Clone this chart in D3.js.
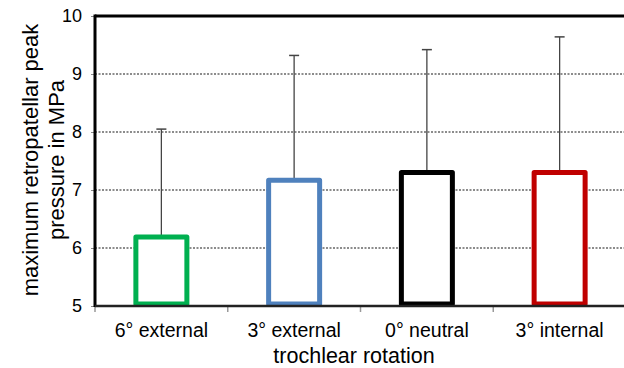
<!DOCTYPE html>
<html>
<head>
<meta charset="utf-8">
<script src="https://cdn.jsdelivr.net/npm/d3@7"></script>
<style>
  body { margin: 0; background: #fff; }
  text { font-family: "Liberation Sans", Arial, sans-serif; fill: #000; }
</style>
</head>
<body>
<svg width="624" height="368"></svg>
<script>
var categories = ['6° external', '3° external', '0° neutral', '3° internal'];
var means = [6.19, 7.17, 7.3, 7.3];
var upperErr = [8.05, 9.32, 9.42, 9.64];
var colors = ['#00b050', '#4f81bd', '#000000', '#c00000'];
var yTicks = [5, 6, 7, 8, 9, 10];

var svg = d3.select('svg');
var W = 624;
var plotLeft = 95, plotRight = 626, plotTop = 16, plotBottom = 306;

var y = d3.scaleLinear().domain([5, 10]).range([plotBottom, plotTop]);
var x = d3.scaleBand().domain(categories).range([plotLeft, plotRight]);

// dotted grid
svg.append('g').selectAll('line')
  .data(yTicks.filter(function(d){ return d > 5 && d < 10; }))
  .enter().append('line')
    .attr('x1', plotLeft).attr('x2', W)
    .attr('y1', function(d){ return y(d); })
    .attr('y2', function(d){ return y(d); })
    .attr('stroke', '#8c8c8c')
    .attr('stroke-width', 2)
    .attr('stroke-dasharray', '2,1.5');

// y axis
var yAxis = svg.append('g')
  .attr('transform', 'translate(' + plotLeft + ',0)')
  .call(d3.axisLeft(y).tickValues(yTicks).tickFormat(d3.format('d')).tickSize(4).tickPadding(9));
yAxis.select('.domain').remove();
yAxis.selectAll('.tick line').attr('stroke', '#888');
yAxis.selectAll('.tick text').style('font-size', '18px');

// x axis labels
var xAxis = svg.append('g')
  .attr('transform', 'translate(0,' + plotBottom + ')')
  .call(d3.axisBottom(x).tickSize(0).tickPadding(17));
xAxis.select('.domain').remove();
xAxis.selectAll('.tick text').style('font-size', '19.5px');

// category boundary ticks
svg.append('g').selectAll('line')
  .data(categories)
  .enter().append('line')
    .attr('x1', function(d){ return x(d); })
    .attr('x2', function(d){ return x(d); })
    .attr('y1', plotBottom).attr('y2', plotBottom + 6)
    .attr('stroke', '#999').attr('stroke-width', 1.5);

// error bars (upper only)
var eg = svg.append('g');
categories.forEach(function(c, i){
  var cx = x(c) + x.bandwidth() / 2;
  eg.append('line')
    .attr('x1', cx).attr('x2', cx)
    .attr('y1', y(means[i])).attr('y2', y(upperErr[i]))
    .attr('stroke', '#444').attr('stroke-width', 1.3);
  eg.append('line')
    .attr('x1', cx - 5).attr('x2', cx + 5)
    .attr('y1', y(upperErr[i])).attr('y2', y(upperErr[i]))
    .attr('stroke', '#444').attr('stroke-width', 1.5);
});

// outlined bars
var bw = 51;
svg.append('g').selectAll('rect')
  .data(means)
  .enter().append('rect')
    .attr('x', function(d, i){ return x(categories[i]) + x.bandwidth() / 2 - bw / 2; })
    .attr('y', function(d){ return y(d); })
    .attr('width', bw)
    .attr('height', function(d){ return y(5) - y(d) - 2; })
    .attr('fill', '#fff')
    .attr('stroke', function(d, i){ return colors[i]; })
    .attr('stroke-width', 5)
    .attr('stroke-linejoin', 'round');

// frame lines
svg.append('line').attr('x1', plotLeft).attr('x2', W).attr('y1', plotTop).attr('y2', plotTop)
  .attr('stroke', '#000').attr('stroke-width', 3);
svg.append('line').attr('x1', plotLeft).attr('x2', plotLeft).attr('y1', plotTop - 1.5).attr('y2', plotBottom + 1)
  .attr('stroke', '#000').attr('stroke-width', 3);
svg.append('line').attr('x1', plotLeft).attr('x2', W).attr('y1', plotBottom).attr('y2', plotBottom)
  .attr('stroke', '#222').attr('stroke-width', 2.5);

// titles
svg.append('text')
  .attr('x', 354).attr('y', 363)
  .attr('text-anchor', 'middle')
  .style('font-size', '21.5px')
  .text('trochlear rotation');

var yt = svg.append('text')
  .attr('transform', 'translate(38,160) rotate(-90)')
  .attr('text-anchor', 'middle')
  .style('font-size', '22px');
yt.append('tspan').attr('x', 0).attr('dy', 0).text('maximum retropatellar peak');
yt.append('tspan').attr('x', 0).attr('dy', 26).text('pressure in MPa');
</script>
</body>
</html>
